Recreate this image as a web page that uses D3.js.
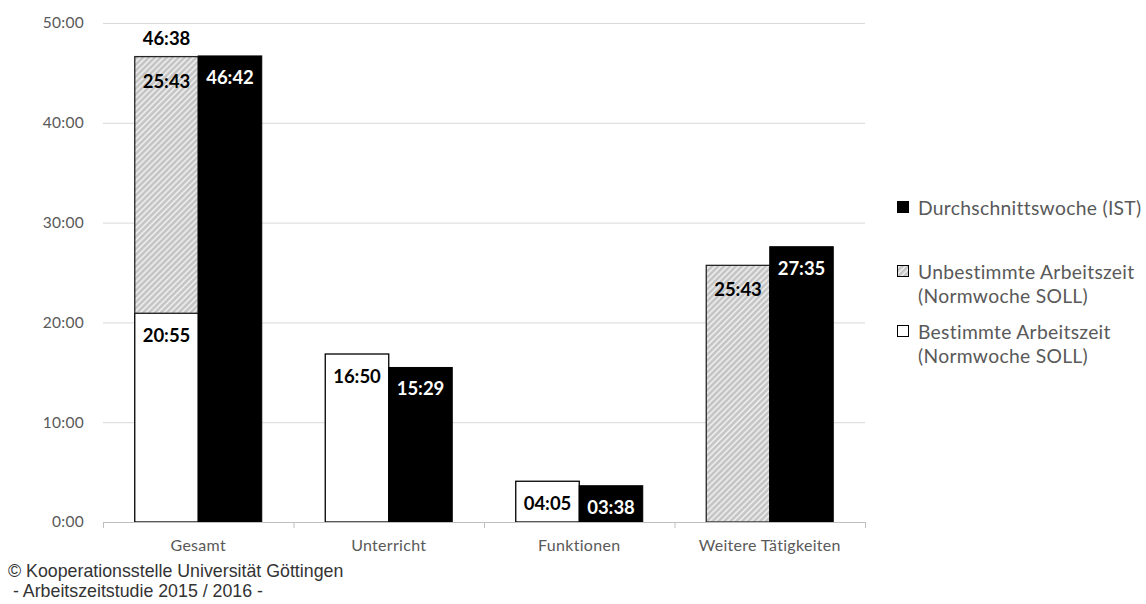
<!DOCTYPE html>
<html>
<head>
<meta charset="utf-8">
<script src="https://cdn.jsdelivr.net/npm/d3@7"></script>
<style>
  html, body { margin: 0; padding: 0; background: #fff; }
  svg { display: block; }
</style>
</head>
<body>
<svg id="chart" width="1146" height="604"></svg>
<script>
// ---- data (minutes per week) ----
const categories = ["Gesamt", "Unterricht", "Funktionen", "Weitere Tätigkeiten"];
const bestimmteSoll = [1255, 1010, 245, 0];     // Bestimmte Arbeitszeit (Normwoche SOLL)
const unbestimmteSoll = [1543, 0, 0, 1543];     // Unbestimmte Arbeitszeit (Normwoche SOLL)
const durchschnittIst = [2802, 929, 218, 1655]; // Durchschnittswoche (IST)
const yTicks = [0, 600, 1200, 1800, 2400, 3000];
const legendLabels = [
  ["Durchschnittswoche (IST)"],
  ["Unbestimmte Arbeitszeit", "(Normwoche SOLL)"],
  ["Bestimmte Arbeitszeit", "(Normwoche SOLL)"]
];
const footer = ["© Kooperationsstelle Universität Göttingen", " - Arbeitszeitstudie 2015 / 2016 -"];

(function () {
// ---- helpers ----
const fmt = m => String(Math.floor(m / 60)).padStart(2, "0") + ":" + String(m % 60).padStart(2, "0");
const fmtTick = m => Math.floor(m / 60) + ":" + String(m % 60).padStart(2, "0");

const svg = d3.select("#chart");
const pLeft = 103, pRight = 865, pTop = 23, pBottom = 522;

const x = d3.scaleBand().domain(categories).range([pLeft, pRight]).paddingInner(0).paddingOuter(0);
const inner = d3.scaleBand().domain(["soll", "ist"]).range([0, x.bandwidth()]).paddingInner(0).paddingOuter(0.5);
const y = d3.scaleLinear().domain([0, 3000]).range([pBottom, pTop]);

// hatch pattern
const defs = svg.append("defs");
const pat = defs.append("pattern")
  .attr("id", "hatch").attr("patternUnits", "userSpaceOnUse")
  .attr("width", 4.2).attr("height", 4.2)
  .attr("patternTransform", "rotate(45)");
pat.append("rect").attr("width", 4.2).attr("height", 4.2).attr("fill", "#c4c4c4");
pat.append("line").attr("x1", 1).attr("x2", 1).attr("y1", 0).attr("y2", 4.2)
  .attr("stroke", "#efefef").attr("stroke-width", 1.6);

// gridlines
svg.append("g").selectAll("line").data(yTicks.filter(t => t > 0)).join("line")
  .attr("x1", pLeft).attr("x2", pRight)
  .attr("y1", d => y(d) + 0.5).attr("y2", d => y(d) + 0.5)
  .attr("stroke", "#d9d9d9").attr("stroke-width", 1);

// y axis labels
const yAxis = d3.axisLeft(y).tickValues(yTicks).tickFormat(fmtTick).tickSize(0).tickPadding(0);
const yg = svg.append("g").attr("transform", `translate(${pLeft - 19},0)`).call(yAxis);
yg.select(".domain").remove();
yg.selectAll("text").attr("fill", "#595959").attr("font-family", "Lato, 'Open Sans', sans-serif")
  .attr("font-size", 15.5).attr("letter-spacing", 0.3);

// bars
const gBars = svg.append("g");
categories.forEach((c, i) => {
  const x0 = x(c);
  const xs = x0 + inner("soll"), xi = x0 + inner("ist"), w = inner.bandwidth();
  if (bestimmteSoll[i] > 0) {
    gBars.append("rect").attr("x", xs).attr("y", y(bestimmteSoll[i]))
      .attr("width", w).attr("height", y(0) - y(bestimmteSoll[i]))
      .attr("fill", "#fff").attr("stroke", "#000").attr("stroke-width", 1.3);
  }
  if (unbestimmteSoll[i] > 0) {
    const b = bestimmteSoll[i], t = b + unbestimmteSoll[i];
    gBars.append("rect").attr("x", xs).attr("y", y(t))
      .attr("width", w).attr("height", y(b) - y(t))
      .attr("fill", "url(#hatch)").attr("stroke", "#262626").attr("stroke-width", 1.3);
  }
  gBars.append("rect").attr("x", xi).attr("y", y(durchschnittIst[i]))
    .attr("width", w).attr("height", y(0) - y(durchschnittIst[i]))
    .attr("fill", "#000").attr("stroke", "#000").attr("stroke-width", 1);
});

// x axis line + ticks
svg.append("line").attr("x1", pLeft).attr("x2", pRight).attr("y1", pBottom + 0.5).attr("y2", pBottom + 0.5)
  .attr("stroke", "#bfbfbf").attr("stroke-width", 1);
const bounds = categories.map(c => x(c)).concat([pRight]);
svg.append("g").selectAll("line").data(bounds).join("line")
  .attr("x1", d => d + 0.5).attr("x2", d => d + 0.5)
  .attr("y1", pBottom).attr("y2", pBottom + 6)
  .attr("stroke", "#bfbfbf").attr("stroke-width", 1);
svg.append("g").selectAll("text").data(categories).join("text")
  .attr("x", d => x(d) + x.bandwidth() / 2).attr("y", 551)
  .attr("text-anchor", "middle").attr("fill", "#595959")
  .attr("font-family", "Lato, 'Open Sans', sans-serif").attr("font-size", 16).attr("letter-spacing", 0.3)
  .text(d => d);

// data labels
const gLab = svg.append("g").attr("font-family", "Lato, 'Open Sans', sans-serif")
  .attr("font-weight", "bold").attr("font-size", 18.5).attr("text-anchor", "middle");
const lab = (cx, yy, txt, col) => gLab.append("text").attr("x", cx).attr("y", yy)
  .attr("fill", col).attr("dominant-baseline", "central").text(txt);
categories.forEach((c, i) => {
  const x0 = x(c), w = inner.bandwidth();
  const cs = x0 + inner("soll") + w / 2, ci = x0 + inner("ist") + w / 2;
  if (bestimmteSoll[i] > 0) lab(cs, y(bestimmteSoll[i]) + 22, fmt(bestimmteSoll[i]), "#000");
  if (unbestimmteSoll[i] > 0) {
    const t = bestimmteSoll[i] + unbestimmteSoll[i];
    lab(cs, y(t) + 24, fmt(unbestimmteSoll[i]), "#000");
    if (bestimmteSoll[i] > 0) lab(cs, y(t) - 19, fmt(t), "#000");
  }
  lab(ci, y(durchschnittIst[i]) + 21, fmt(durchschnittIst[i]), "#fff");
});

// legend
const leg = svg.append("g");
const legendY = [207, 271, 331];
const legendFill = ["#000", "url(#hatch)", "#fff"];
legendLabels.forEach((lines, i) => {
  leg.append("rect").attr("x", 897.5).attr("y", legendY[i] - 5.5).attr("width", 11).attr("height", 11)
    .attr("fill", legendFill[i]).attr("stroke", "#000").attr("stroke-width", 1);
  lines.forEach((ln, j) => {
    leg.append("text").attr("x", 918).attr("y", legendY[i] + j * 24)
      .attr("dominant-baseline", "central").attr("fill", "#595959")
      .attr("font-family", "Lato, 'Open Sans', sans-serif").attr("font-size", 19.3).attr("letter-spacing", 0.3)
      .text(ln);
  });
});

// footer
svg.append("g").selectAll("text").data(footer).join("text")
  .attr("x", 8).attr("y", (d, i) => 577 + i * 19.5)
  .attr("fill", "#333").attr("font-family", "'Liberation Sans', Arial, sans-serif").attr("font-size", 17.8)
  .style("white-space", "pre")
  .text(d => d);
})();
</script>
</body>
</html>
